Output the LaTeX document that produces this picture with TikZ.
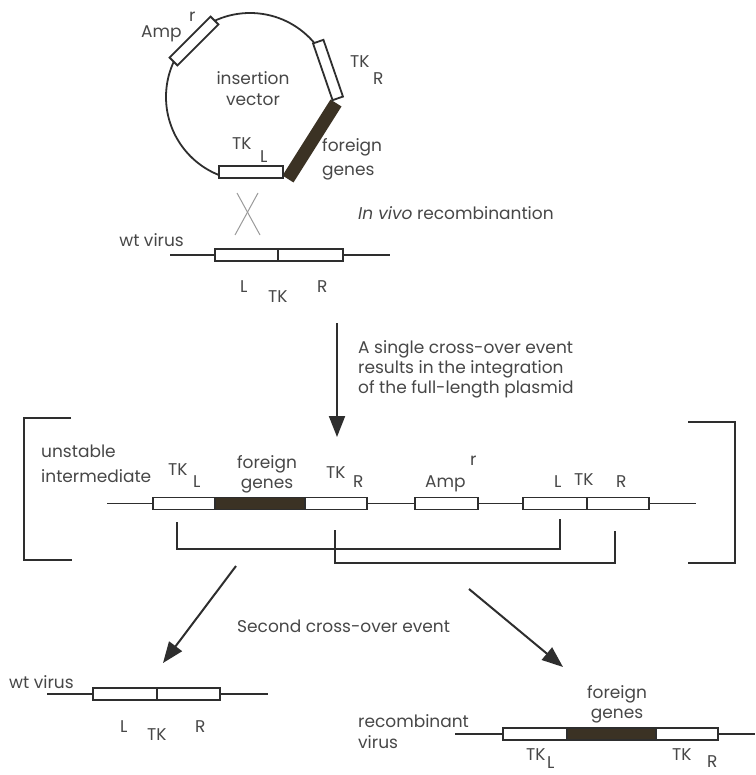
\documentclass[tikz,border=0pt]{standalone}
\usepackage{fontspec}
\setmainfont{Poppins}
\usetikzlibrary{arrows.meta}
\definecolor{ink}{HTML}{2E2E2E}
\definecolor{txt}{HTML}{474747}
\definecolor{fg}{HTML}{3B3224}
\definecolor{xg}{HTML}{9A9A9A}
\begin{document}
\begin{tikzpicture}[x=1pt,y=-1pt,
  lbl/.style={text=txt,inner sep=0pt,font=\fontsize{17}{22}\selectfont},
  lw/.style={lbl,anchor=base west},
  lc/.style={lbl,anchor=base},
  le/.style={lbl,anchor=base east},
  wbox/.style={draw=ink,fill=white,line width=1.8pt,minimum height=12pt,inner sep=0pt,outer sep=0pt},
  dbox/.style={wbox,fill=fg},
  dna/.style={draw=ink,line width=1.8pt},
  brk/.style={draw=ink,line width=1.8pt},
  arr/.style={draw=ink,line width=2pt,-{Triangle[length=21pt,width=16pt]}},
]
\useasboundingbox (0,0) rectangle (755,775);

% ---------------- plasmid ----------------
\coordinate (pc) at (250,97);
\draw[dna] (pc) ++(0:84) arc[start angle=0,end angle=-248,radius=84];
\coordinate (fb1) at (336,103);
\coordinate (fb2) at (288,179);
\draw[fg,line width=13pt] (fb1) -- (fb2);
\node[wbox,minimum width=58pt,minimum height=11pt,rotate=45] (ampv) at (194,41) {};
\node[wbox,minimum width=60pt,minimum height=11pt,rotate=-71] (tkrv) at (328,70) {};
\node[wbox,minimum width=64pt] (tklv) at (251,172) {};

\node[lw] (ampl) at (141,38) {Amp};
\node[lw] (ampsup) at (189,22) {r};
\node[lc] (ins) at (253,85) {insertion};
\node[lc] (vec) at (253,106) {vector};
\node[lw] (tkrl) at (350,68) {TK};
\node[lw] (tkrs) at (373,85) {R};
\node[lw] (tkll) at (232,150) {TK};
\node[lw] (tkls) at (260,163) {L};
\node[lw] (fgl1) at (322,152) {foreign};
\node[lw] (fgl2) at (322,176) {genes};

% crossover X
\coordinate (x1) at (237,193);
\coordinate (x2) at (260,235);
\coordinate (x3) at (258,193);
\coordinate (x4) at (235,235);
\draw[xg,line width=1pt] (x1) -- (x2);
\draw[xg,line width=1pt] (x3) -- (x4);

% ---------------- wt virus (top) ----------------
\coordinate (w1a) at (170,255);
\coordinate (w1b) at (390,255);
\draw[dna] (w1a) -- (w1b);
\node[wbox,minimum width=63pt] (w1l) at (246.5,255) {};
\node[wbox,minimum width=65pt] (w1r) at (310.5,255) {};
\node[le] (wt1) at (184,247) {wt virus};
\node[lw] (ivr) at (358,220) {\textit{In vivo} recombinantion};
\node[lw] (w1L) at (240,292) {L};
\node[lw] (w1TK) at (268,302) {TK};
\node[lw] (w1R) at (317,292) {R};

% ---------------- first arrow ----------------
\coordinate (a1s) at (337,323);
\coordinate (a1e) at (337,437);
\draw[arr] (a1s) -- (a1e);
\node[lw] (t1) at (358,353) {A single cross-over event};
\node[lw] (t2) at (358,373) {results in the integration};
\node[lw] (t3) at (358,393) {of the full-length plasmid};

% ---------------- intermediate ----------------
\coordinate (ia) at (107,503.5);
\coordinate (ib) at (696,503.5);
\draw[dna] (ia) -- (ib);
\node[wbox,minimum width=62pt] (itkl) at (184,503.5) {};
\node[dbox,minimum width=90pt] (ifg) at (260,503.5) {};
\node[wbox,minimum width=62pt] (itkr) at (336,503.5) {};
\node[wbox,minimum width=63pt] (iamp) at (446.5,503.5) {};
\node[wbox,minimum width=64pt] (il) at (555,503.5) {};
\node[wbox,minimum width=62pt] (ir) at (618,503.5) {};

\node[lw] (us1) at (41,457) {unstable};
\node[lw] (us2) at (41,482) {intermediate};
\node[lw] (itkll) at (168,475) {TK};
\node[lw] (itkls) at (193,487) {L};
\node[lc] (ifg1) at (267,468) {foreign};
\node[lc] (ifg2) at (267,488) {genes};
\node[lw] (itkrl) at (326,478) {TK};
\node[lw] (itkrs) at (353,487) {R};
\node[lw] (iampl) at (425,487) {Amp};
\node[lw] (iamps) at (470,465) {r};
\node[lw] (iL) at (554,487) {L};
\node[lw] (iTK) at (574,485) {TK};
\node[lw] (iR) at (616,487) {R};

% pairing lines
\coordinate (p1a) at (177,522);
\coordinate (p1b) at (177,549);
\coordinate (p1c) at (560,549);
\coordinate (p1d) at (560,519);
\draw[brk] (p1a) -- (p1b) -- (p1c) -- (p1d);
\coordinate (p2a) at (335,530);
\coordinate (p2b) at (335,563);
\coordinate (p2c) at (615,563);
\coordinate (p2d) at (615,531);
\draw[brk] (p2a) -- (p2b) -- (p2c) -- (p2d);

% brackets
\coordinate (bl1) at (71,418);
\coordinate (bl2) at (24,418);
\coordinate (bl3) at (24,560);
\coordinate (bl4) at (72,560);
\draw[brk,line width=2pt] (bl1) -- (bl2) -- (bl3) -- (bl4);
\coordinate (br1) at (688,422);
\coordinate (br2) at (735,422);
\coordinate (br3) at (735,563);
\coordinate (br4) at (688,563);
\draw[brk,line width=2pt] (br1) -- (br2) -- (br3) -- (br4);

% ---------------- second arrows ----------------
\coordinate (a2s) at (236,566);
\coordinate (a2e) at (163,663);
\draw[arr] (a2s) -- (a2e);
\coordinate (a3s) at (469,589);
\coordinate (a3e) at (563,667);
\draw[arr] (a3s) -- (a3e);
\node[lw] (sce) at (237,632) {Second cross-over event};

% ---------------- wt virus (bottom) ----------------
\coordinate (w2a) at (47,694);
\coordinate (w2b) at (268,694);
\draw[dna] (w2a) -- (w2b);
\node[wbox,minimum width=64pt] (w2l) at (125,694) {};
\node[wbox,minimum width=63pt] (w2r) at (188.5,694) {};
\node[lw] (wt2) at (9,688) {wt virus};
\node[lw] (w2L) at (120,732) {L};
\node[lw] (w2TK) at (147,740) {TK};
\node[lw] (w2R) at (195,732) {R};

% ---------------- recombinant virus ----------------
\coordinate (rva) at (455,734);
\coordinate (rvb) at (755,734);
\draw[dna] (rva) -- (rvb);
\node[wbox,minimum width=64pt] (rtkl) at (535,734) {};
\node[dbox,minimum width=89pt] (rfg) at (611.5,734) {};
\node[wbox,minimum width=62pt] (rtkr) at (687,734) {};
\node[lc] (rfg1) at (617,698) {foreign};
\node[lc] (rfg2) at (617,718) {genes};
\node[lw] (rv1) at (358,727) {recombinant};
\node[lw] (rv2) at (358,748) {virus};
\node[lw] (rtkll) at (526,760) {TK};
\node[lw] (rtkls) at (547,768) {L};
\node[lw] (rtkrl) at (672,760) {TK};
\node[lw] (rtkrs) at (707,767) {R};
\end{tikzpicture}
\end{document}
